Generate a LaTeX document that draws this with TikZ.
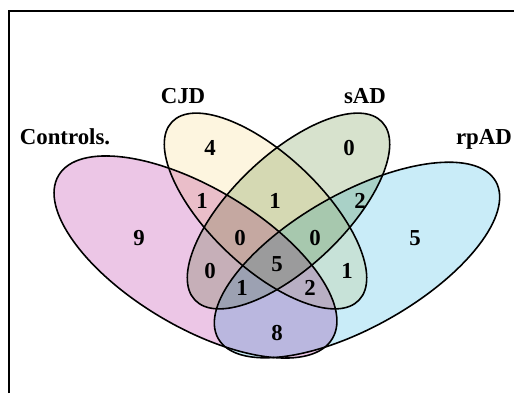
\documentclass[tikz,border=0pt]{standalone}
\usepackage{fontspec}
\setmainfont{Liberation Serif}
\definecolor{pinkF}{RGB}{236,198,230}
\definecolor{yellowF}{RGB}{253,245,223}
\definecolor{greenF}{RGB}{215,226,205}
\definecolor{blueF}{RGB}{201,236,248}
\begin{document}
\begin{tikzpicture}[x=0.02cm,y=0.02cm,
  lbl/.style={font=\fontsize{13}{15}\selectfont\bfseries, anchor=base, inner sep=0pt},
  outline/.style={line width=0.9pt, draw=black}]
\useasboundingbox (0,0) rectangle (514,393);
\fill[white] (0,0) rectangle (514,393);
\draw[line width=1pt] (9,0) -- (9,382) -- (516,382);
\coordinate (cA) at (195.5,136);
\coordinate (cB) at (265.5,182);
\coordinate (cC) at (288.5,182);
\coordinate (cD) at (357,133);
\begin{scope}[blend group=multiply]
  \fill[pinkF, rotate around={-30.8:(cA)}] (cA) ellipse [x radius=3.188cm, y radius=1.388cm];
  \fill[yellowF, rotate around={-43.6:(cB)}] (cB) ellipse [x radius=2.584cm, y radius=1.12cm];
  \fill[greenF, rotate around={43.6:(cC)}] (cC) ellipse [x radius=2.584cm, y radius=1.12cm];
  \fill[blueF, rotate around={29.5:(cD)}] (cD) ellipse [x radius=3.19cm, y radius=1.34cm];
\end{scope}
\draw[outline, rotate around={-30.8:(cA)}] (cA) ellipse [x radius=3.188cm, y radius=1.388cm];
\draw[outline, rotate around={-43.6:(cB)}] (cB) ellipse [x radius=2.584cm, y radius=1.12cm];
\draw[outline, rotate around={43.6:(cC)}] (cC) ellipse [x radius=2.584cm, y radius=1.12cm];
\draw[outline, rotate around={29.5:(cD)}] (cD) ellipse [x radius=3.19cm, y radius=1.34cm];
% set labels
\node[lbl] (tA) at (65,249) {Controls.};
\node[lbl] (tB) at (183,290) {CJD};
\node[lbl] (tC) at (365,290) {sAD};
\node[lbl] (tD) at (484,249) {rpAD};
% region counts
\node[lbl] (nB) at (210,238) {4};
\node[lbl] (nC) at (349,238) {0};
\node[lbl] (nA) at (139,148) {9};
\node[lbl] (nD) at (415,148) {5};
\node[lbl] (nAB) at (202,185) {1};
\node[lbl] (nBC) at (275,185) {1};
\node[lbl] (nCD) at (360,185) {2};
\node[lbl] (nABC) at (240,148) {0};
\node[lbl] (nBCD) at (315,148) {0};
\node[lbl] (nAC) at (210,115) {0};
\node[lbl] (nABCD) at (277,122) {5};
\node[lbl] (nBD) at (347,115) {1};
\node[lbl] (nACD) at (242,98) {1};
\node[lbl] (nABD) at (310,98) {2};
\node[lbl] (nAD) at (277,53) {8};
\end{tikzpicture}
\end{document}
